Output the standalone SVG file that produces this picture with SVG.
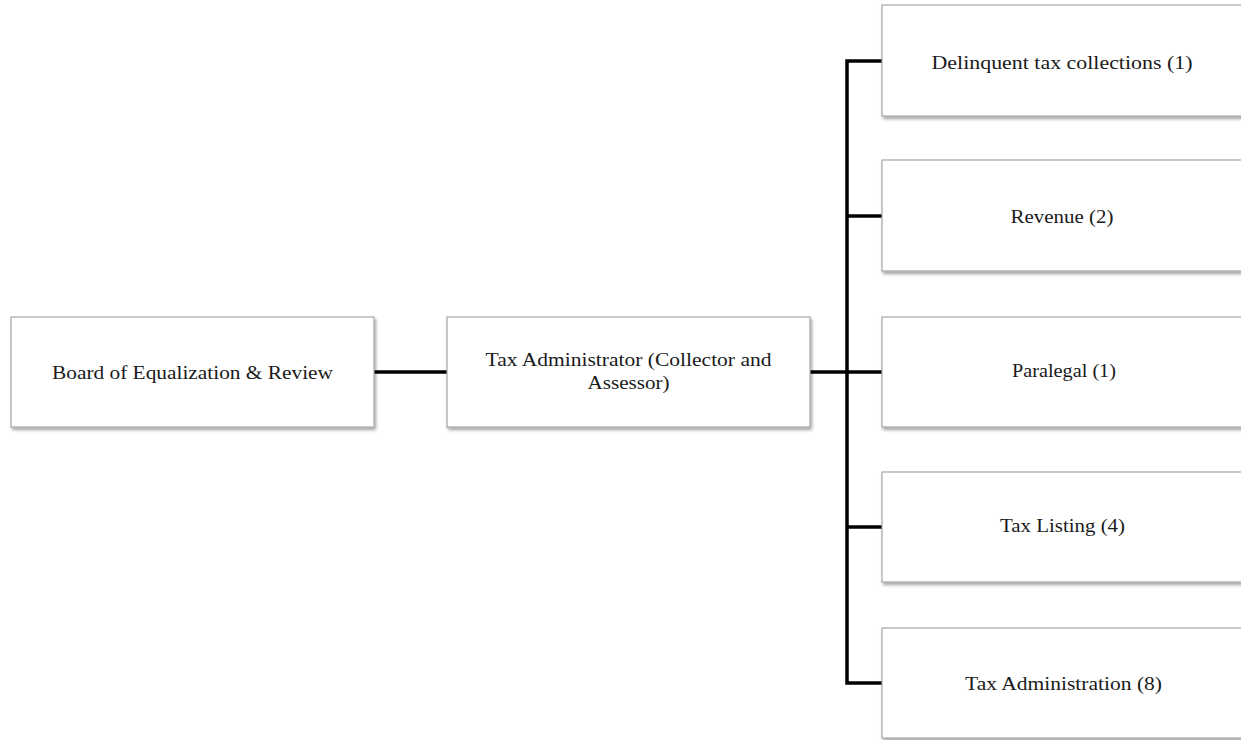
<svg xmlns="http://www.w3.org/2000/svg" width="1241" height="740" viewBox="0 0 1241 740">
<defs>
<filter id="sh" x="-5%" y="-10%" width="115%" height="130%">
<feDropShadow dx="1.5" dy="2.5" stdDeviation="1.5" flood-color="#000" flood-opacity="0.35"/>
</filter>
<style>
.box{fill:#fff;stroke:#a6a6a6;stroke-width:1.2;filter:url(#sh)}
.t{font-family:"Liberation Serif","Times New Roman",serif;font-size:19.5px;fill:#1a1a1a;text-anchor:middle}
.c{stroke:#000;stroke-width:3.5;fill:none}
</style>
</defs>
<rect width="1241" height="740" fill="#fff"/>
<g id="connectors">
<line class="c" x1="374" y1="372" x2="447" y2="372"/>
<line class="c" x1="810" y1="372" x2="882" y2="372"/>
<polyline class="c" points="882,61 847,61 847,683 882,683"/>
<line class="c" x1="847" y1="216" x2="882" y2="216"/>
<line class="c" x1="847" y1="527" x2="882" y2="527"/>
</g>
<g id="board">
<rect class="box" x="11" y="317" width="363" height="110"/>
<text class="t" x="192.5" y="379" textLength="281" lengthAdjust="spacingAndGlyphs">Board of Equalization &amp; Review</text>
</g>
<g id="admin">
<rect class="box" x="447" y="317" width="363" height="110"/>
<text class="t" x="628.5" y="366" textLength="286" lengthAdjust="spacingAndGlyphs">Tax Administrator (Collector and</text>
<text class="t" x="628.5" y="389" textLength="82" lengthAdjust="spacingAndGlyphs">Assessor)</text>
</g>
<g id="delinquent">
<rect class="box" x="882" y="5" width="362" height="111"/>
<text class="t" x="1062" y="69" textLength="261" lengthAdjust="spacingAndGlyphs">Delinquent tax collections  (1)</text>
</g>
<g id="revenue">
<rect class="box" x="882" y="160" width="362" height="111"/>
<text class="t" x="1062" y="223" textLength="103" lengthAdjust="spacingAndGlyphs">Revenue (2)</text>
</g>
<g id="paralegal">
<rect class="box" x="882" y="317" width="362" height="110"/>
<text class="t" x="1064" y="377" textLength="104" lengthAdjust="spacingAndGlyphs">Paralegal (1)</text>
</g>
<g id="listing">
<rect class="box" x="882" y="472" width="362" height="110"/>
<text class="t" x="1062.5" y="532" textLength="125" lengthAdjust="spacingAndGlyphs">Tax Listing (4)</text>
</g>
<g id="administration">
<rect class="box" x="882" y="628" width="362" height="110"/>
<text class="t" x="1063.5" y="690" textLength="197" lengthAdjust="spacingAndGlyphs">Tax Administration (8)</text>
</g>
</svg>
